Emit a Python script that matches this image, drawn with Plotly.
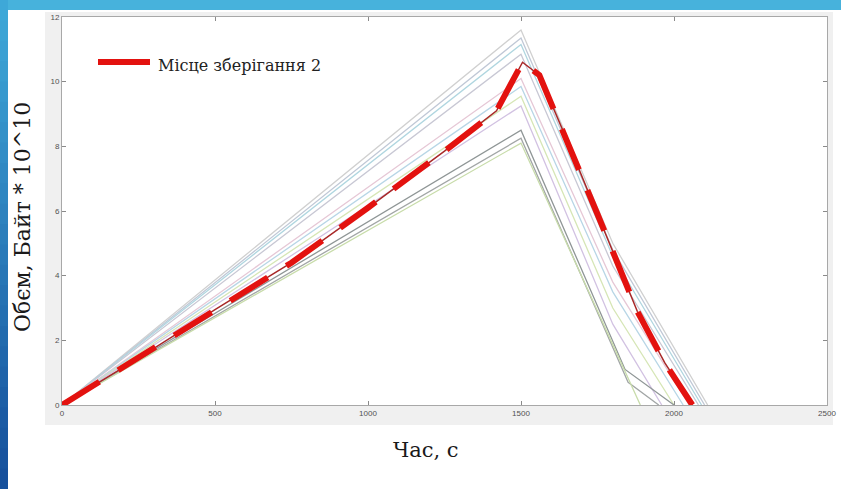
import plotly.graph_objects as go

# ---------------- data ----------------
x_ticks = [0, 500, 1000, 1500, 2000, 2500]
y_ticks = [0, 2, 4, 6, 8, 10, 12]

# highlighted series: "Місце зберігання 2"
red_t = [0, 250, 500, 750, 1000, 1250, 1420, 1505, 1560, 1650, 1750, 1880, 1970, 2060]
red_v = [0, 1.45, 2.95, 4.4, 6.1, 7.85, 9.1, 10.6, 10.2, 8.2, 5.9, 2.9, 1.3, 0]

# background series (thin lines)
s1_t = [0, 1500, 1800, 2110]; s1_v = [0, 11.6, 5.0, 0]
s2_t = [0, 1500, 1800, 2100]; s2_v = [0, 11.35, 4.8, 0]
s3_t = [0, 1500, 1800, 2090]; s3_v = [0, 11.15, 4.6, 0]
s4_t = [0, 1500, 1800, 2080]; s4_v = [0, 10.85, 4.3, 0]
s5_t = [0, 1500, 1800, 2050]; s5_v = [0, 10.1, 3.8, 0]
s6_t = [0, 1500, 1800, 2030]; s6_v = [0, 9.85, 3.5, 0]
s7_t = [0, 1500, 1800, 2000]; s7_v = [0, 9.55, 3.0, 0]
s8_t = [0, 1500, 1800, 1960]; s8_v = [0, 9.25, 2.5, 0]
s9_t = [0, 1500, 1840, 2000]; s9_v = [0, 8.5, 1.1, 0]
s10_t = [0, 1500, 1850, 1950]; s10_v = [0, 8.25, 0.7, 0]
s11_t = [0, 1500, 1890]; s11_v = [0, 8.1, 0]

thin_series = [
    (s1_t, s1_v, "#d0d0d0"),
    (s2_t, s2_v, "#c0c8d6"),
    (s3_t, s3_v, "#b0d6e0"),
    (s4_t, s4_v, "#c8c8d4"),
    (s5_t, s5_v, "#e6c8d6"),
    (s6_t, s6_v, "#b8d6e6"),
    (s7_t, s7_v, "#d6e6b6"),
    (s8_t, s8_v, "#d2c2e2"),
    (s9_t, s9_v, "#8f9696"),
    (s10_t, s10_v, "#a2a6a6"),
    (s11_t, s11_v, "#c8dcaa"),
]

legend_name = "Місце зберігання 2"

# ---------------- figure ----------------
fig = go.Figure()

for t, v, c in thin_series:
    fig.add_trace(go.Scatter(x=t, y=v, mode="lines", line=dict(color=c, width=1.3),
                             showlegend=False, hoverinfo="skip"))

# thin underlay of the highlighted series
fig.add_trace(go.Scatter(x=red_t, y=red_v, mode="lines",
                         line=dict(color="#a82828", width=1.5),
                         showlegend=False, hoverinfo="skip"))
# highlighted dashed series
fig.add_trace(go.Scatter(x=red_t, y=red_v, mode="lines",
                         line=dict(color="#e3120f", width=6, dash="44px,22px"),
                         showlegend=False))
# legend entry (text; the solid key line is drawn as a shape below)
fig.add_trace(go.Scatter(x=[None], y=[None], mode="lines",
                         line=dict(color="rgba(0,0,0,0)", width=1),
                         name=legend_name, showlegend=True))

W, H = 841, 489
L, R, T, B = 62, 14, 17, 84
pw = W - L - R
ph = H - T - B

def px(xp):
    return (xp - L) / pw

def py(yp):
    return (H - B - yp) / ph

shapes = []
# grey MATLAB figure frame around plot area (4 strips)
grey = "#f0f0f0"
shapes.append(dict(type="rect", xref="paper", yref="paper", x0=px(45), x1=px(62), y0=py(425), y1=py(12),
                   fillcolor=grey, line=dict(width=0), layer="below"))
shapes.append(dict(type="rect", xref="paper", yref="paper", x0=px(827), x1=px(833), y0=py(425), y1=py(12),
                   fillcolor=grey, line=dict(width=0), layer="below"))
shapes.append(dict(type="rect", xref="paper", yref="paper", x0=px(62), x1=px(827), y0=py(425), y1=py(405),
                   fillcolor=grey, line=dict(width=0), layer="below"))
shapes.append(dict(type="rect", xref="paper", yref="paper", x0=px(62), x1=px(827), y0=py(17), y1=py(12),
                   fillcolor=grey, line=dict(width=0), layer="below"))
# slide frame: top bar
shapes.append(dict(type="rect", xref="paper", yref="paper", x0=px(0), x1=px(841), y0=py(10), y1=py(0),
                   fillcolor="#47b2dc", line=dict(width=0), layer="below"))
# slide frame: left strip, gradient in steps
n = 24
c_top = (62, 168, 216)
c_bot = (22, 80, 156)
for i in range(n):
    f = i / (n - 1)
    c = tuple(int(round(c_top[k] + (c_bot[k] - c_top[k]) * f)) for k in range(3))
    y0 = i * H / n
    y1 = (i + 1) * H / n + 1
    shapes.append(dict(type="rect", xref="paper", yref="paper", x0=px(0), x1=px(8),
                       y0=py(y1), y1=py(y0),
                       fillcolor="rgb(%d,%d,%d)" % c, line=dict(width=0), layer="below"))
# legend key line
shapes.append(dict(type="line", xref="paper", yref="paper", x0=px(98), x1=px(150), y0=py(62), y1=py(62),
                   line=dict(color="#e3120f", width=6), layer="above"))

annotations = [
    dict(text="Обєм, Байт * 10^10", xref="paper", yref="paper", x=px(23), y=py(217),
         textangle=-90, showarrow=False, xanchor="center", yanchor="middle",
         font=dict(family="DejaVu Serif", size=22, color="#1a1a1a")),
    dict(text="Час, с", xref="paper", yref="paper", x=px(426), y=py(450),
         showarrow=False, xanchor="center", yanchor="middle",
         font=dict(family="DejaVu Serif", size=21, color="#1a1a1a")),
]

axis_common = dict(showgrid=False, zeroline=False, showline=True, linecolor="#a8a8a8", linewidth=1,
                   mirror="ticks", ticks="inside", ticklen=4, tickcolor="#8a8a8a", tickwidth=1,
                   automargin=False,
                   tickfont=dict(family="Liberation Sans, Arial", size=8, color="#505050"))

fig.update_layout(
    width=W, height=H,
    margin=dict(l=L, r=R, t=T, b=B, pad=0),
    paper_bgcolor="white", plot_bgcolor="white",
    xaxis=dict(range=[0, 2500], tickvals=x_ticks, ticktext=[str(v) for v in x_ticks], **axis_common),
    yaxis=dict(range=[0, 12], tickvals=y_ticks, ticktext=[str(v) for v in y_ticks], **axis_common),
    shapes=shapes,
    annotations=annotations,
    showlegend=True,
    legend=dict(x=px(90), y=py(48), xanchor="left", yanchor="top", bgcolor="rgba(255,255,255,0)",
                font=dict(family="DejaVu Serif", size=16, color="#222222"), itemwidth=58),
)

fig.write_html("out.html", config={"displayModeBar": False},
               post_script="document.body.style.margin='0';document.body.style.overflow='hidden';")
